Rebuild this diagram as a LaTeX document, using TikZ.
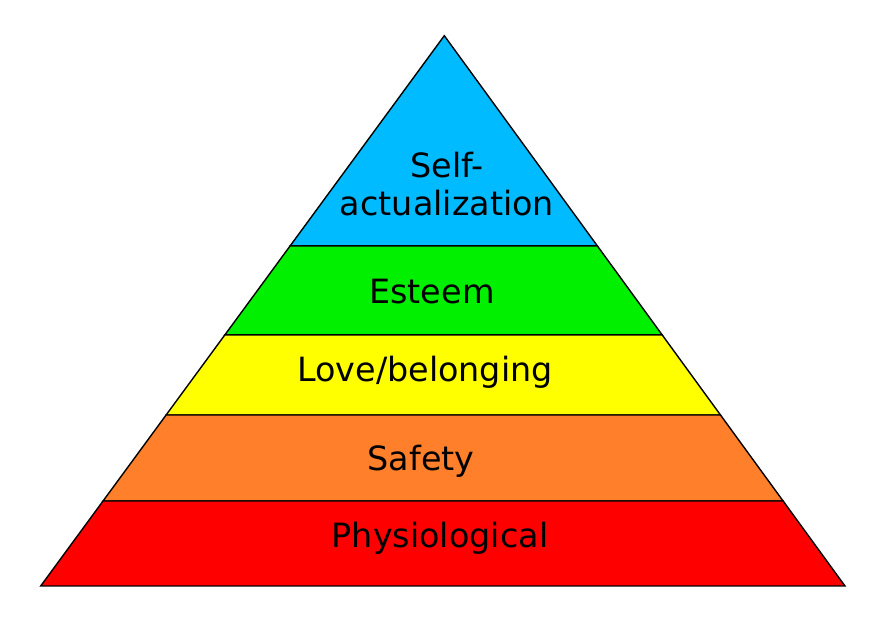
\documentclass[tikz,border=0pt]{standalone}
\usepackage{fontspec}
\setmainfont{DejaVu Sans}
\usetikzlibrary{calc}
\definecolor{selfblue}{RGB}{0,187,255}
\definecolor{esteemgreen}{RGB}{0,240,0}
\definecolor{loveyellow}{RGB}{255,255,0}
\definecolor{safeorange}{RGB}{255,127,42}
\definecolor{physred}{RGB}{255,0,0}
\tikzset{
  etage/.style={draw=black, line width=0.7pt, line join=miter},
  besoin/.style={font=\fontsize{16.7}{19}\selectfont, align=center, inner sep=0pt}
}
\begin{document}
\begin{tikzpicture}[x=0.5pt,y=-0.5pt]
      \useasboundingbox (0,0) rectangle (891,630);
      % Sommet et base
      \coordinate (top) at (444.3,35.7);
      \coordinate (bl) at (40.7,586);
      \coordinate (br) at (845,586);

      % Etages de la pyramide
      \foreach \a/\b/\c in {0/0.382/selfblue, 0.382/0.5438/esteemgreen,
          0.5438/0.6892/loveyellow, 0.6892/0.8456/safeorange, 0.8456/1/physred}
        \filldraw[etage, fill=\c] ($(top)!\a!(bl)$) -- ($(top)!\b!(bl)$)
          -- ($(top)!\b!(br)$) -- ($(top)!\a!(br)$) -- cycle;

      % Textes
      \node[besoin] (self) at (447,184) {Self-\\actualization};
      \node[besoin] (esteem) at (432,292) {Esteem};
      \node[besoin] (love) at (425,372) {Love/belonging};
      \node[besoin] (safety) at (421,461) {Safety};
      \node[besoin] (physio) at (440,538) {Physiological};
    \end{tikzpicture}
\end{document}
